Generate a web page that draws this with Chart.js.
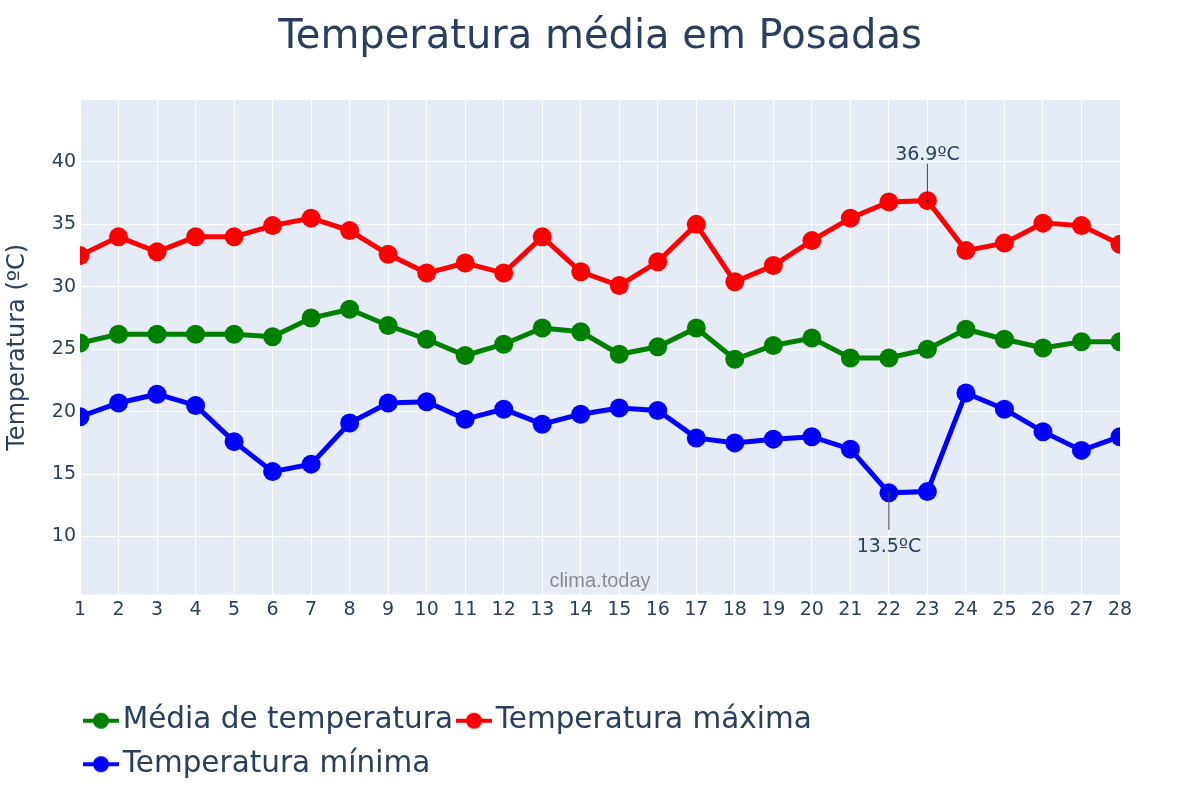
<!DOCTYPE html>
<html>
<head>
<meta charset="utf-8">
<script src="https://cdn.jsdelivr.net/npm/chart.js"></script>
<style>
  body { margin: 0; background: #fff; }
</style>
</head>
<body>
<canvas id="tempChart" width="1200" height="800"></canvas>
<script>
const days = ['1','2','3','4','5','6','7','8','9','10','11','12','13','14','15','16','17','18','19','20','21','22','23','24','25','26','27','28'];
const avgT = [25.5, 26.2, 26.2, 26.2, 26.2, 26.0, 27.5, 28.2, 26.9, 25.8, 24.5, 25.4, 26.7, 26.4, 24.6, 25.2, 26.7, 24.2, 25.3, 25.9, 24.3, 24.3, 25.0, 26.6, 25.8, 25.1, 25.6, 25.6];
const maxT = [32.5, 34.0, 32.8, 34.0, 34.0, 34.9, 35.5, 34.5, 32.6, 31.1, 31.9, 31.1, 34.0, 31.2, 30.1, 32.0, 35.0, 30.4, 31.7, 33.7, 35.5, 36.8, 36.9, 32.9, 33.5, 35.1, 34.9, 33.4];
const minT = [19.6, 20.7, 21.4, 20.5, 17.6, 15.2, 15.8, 19.1, 20.7, 20.8, 19.4, 20.2, 19.0, 19.8, 20.3, 20.1, 17.9, 17.5, 17.8, 18.0, 17.0, 13.5, 13.6, 21.5, 20.2, 18.4, 16.9, 18.0];
const yTicks = [10, 15, 20, 25, 30, 35, 40];

const FONT = 'DejaVu Sans';
const TEXT = '#2a3f5f';

// little line+dot marker for the legend
function legendMarker(color){
    const c = document.createElement('canvas');
    c.width = 36; c.height = 20;
    const g = c.getContext('2d');
    g.strokeStyle = color;
    g.lineWidth = 4;
    g.beginPath(); g.moveTo(0, 10); g.lineTo(36, 10); g.stroke();
    g.fillStyle = color;
    g.beginPath(); g.arc(18, 10, 8, 0, Math.PI*2); g.fill();
    return c;
}

const plotBg = {
    id: 'plotBg',
    beforeDraw(chart){
        const {ctx, chartArea: a} = chart;
        ctx.save();
        ctx.fillStyle = '#e5ecf6';
        ctx.fillRect(a.left, a.top, a.right - a.left, a.bottom - a.top);
        ctx.restore();
    },
    beforeDatasetsDraw(chart){
        const {ctx, chartArea: a} = chart;
        ctx.save();
        ctx.font = '20px "Liberation Sans"';
        ctx.fillStyle = 'rgba(0,0,0,0.42)';
        ctx.textAlign = 'center';
        ctx.textBaseline = 'middle';
        ctx.fillText('clima.today', (a.left + a.right)/2, a.bottom - 13);
        ctx.restore();
    }
};

const peakNotes = {
    id: 'peakNotes',
    afterDatasetsDraw(chart){
        const {ctx, scales: {x, y}} = chart;
        const hi = Math.max(...maxT), lo = Math.min(...minT);
        const notes = [
            {i: maxT.indexOf(hi), v: hi, dir: -1, off: 46},
            {i: minT.indexOf(lo), v: lo, dir: 1, off: 54}
        ];
        ctx.save();
        ctx.font = '19px "' + FONT + '"';
        ctx.textAlign = 'center';
        ctx.textBaseline = 'middle';
        notes.forEach(n => {
            const px = x.getPixelForValue(n.i);
            const py = y.getPixelForValue(n.v);
            ctx.strokeStyle = '#444';
            ctx.lineWidth = 1;
            ctx.beginPath();
            ctx.moveTo(px, py);
            ctx.lineTo(px, py + n.dir*37);
            ctx.stroke();
            ctx.fillStyle = '#333';
            ctx.beginPath(); ctx.arc(px, py, 1.5, 0, Math.PI*2); ctx.fill();
            ctx.fillStyle = TEXT;
            ctx.fillText(n.v.toFixed(1) + 'ºC', px, py + n.dir*n.off);
        });
        ctx.restore();
    }
};

function series(label, data, color){
    return {
        label: label,
        data: data,
        borderColor: color,
        backgroundColor: color,
        pointBackgroundColor: color,
        pointBorderWidth: 0,
        pointRadius: 9.5,
        pointHoverRadius: 9.5,
        borderWidth: 5,
        tension: 0,
        clip: 0
    };
}

const ctx = document.getElementById('tempChart').getContext('2d');
const chart = new Chart(ctx, {
    type: 'line',
    data: {
        labels: days,
        datasets: [
            series('Média de temperatura', avgT, '#008000'),
            series('Temperatura máxima', maxT, '#ff0000'),
            series('Temperatura mínima', minT, '#0000ff')
        ]
    },
    options: {
        responsive: false,
        animation: false,
        layout: { padding: { left: 0, right: 0, top: 0, bottom: 11 } },
        plugins: {
            title: {
                display: true,
                text: 'Temperatura média em Posadas',
                color: TEXT,
                font: { family: FONT, size: 40, weight: 'normal' },
                padding: { top: 14, bottom: 38 }
            },
            legend: {
                position: 'bottom',
                align: 'start',
                fullSize: false,
                labels: {
                    color: TEXT,
                    font: { family: FONT, size: 29.5 },
                    usePointStyle: true,
                    pointStyleWidth: 14,
                    padding: 14,
                    generateLabels(chart){
                        const items = Chart.defaults.plugins.legend.labels.generateLabels(chart);
                        items.forEach(it => {
                            it.pointStyle = legendMarker(chart.data.datasets[it.datasetIndex].borderColor);
                        });
                        return items;
                    }
                }
            },
            tooltip: { enabled: false }
        },
        scales: {
            x: {
                offset: false,
                grid: { color: '#ffffff', lineWidth: 1, drawTicks: false },
                border: { display: false },
                ticks: { color: TEXT, font: { family: FONT, size: 19 }, padding: 4, maxRotation: 0, autoSkip: false },
                afterFit(scale){ scale.height = 97.5; }
            },
            y: {
                min: 5.36,
                max: 44.96,
                grid: { color: '#ffffff', lineWidth: 1, drawTicks: false },
                border: { display: false },
                ticks: { color: TEXT, font: { family: FONT, size: 19 }, padding: 4 },
                afterBuildTicks(scale){ scale.ticks = yTicks.map(v => ({value: v})); },
                title: {
                    display: true,
                    text: 'Temperatura (ºC)',
                    color: TEXT,
                    font: { family: FONT, size: 24 },
                    padding: { top: 3, bottom: 0 }
                },
                afterFit(scale){ scale.width = 80; }
            },
            // empty right axis, only keeps the plot 80px off the right edge
            yRight: {
                position: 'right',
                grid: { display: false },
                border: { display: false },
                ticks: { display: false },
                afterFit(scale){ scale.width = 80; }
            }
        }
    },
    plugins: [plotBg, peakNotes]
});
</script>
</body>
</html>
